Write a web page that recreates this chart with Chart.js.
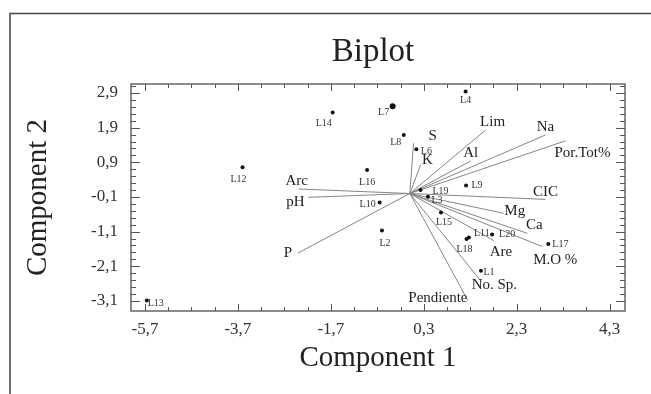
<!DOCTYPE html>
<html lang="es">
<head>
<meta charset="UTF-8" />
<title>Biplot</title>
<script src="https://cdn.jsdelivr.net/npm/chart.js@4.4.0/dist/chart.umd.min.js"></script>
<style>
  html, body { margin: 0; padding: 0; background: #fff; }
</style>
</head>
<body>
<canvas id="biplot" width="651" height="394"></canvas>
<script>
// observation scores
const obsNames = ['L1', 'L2', 'L3', 'L4', 'L6', 'L7', 'L8', 'L9', 'L10', 'L11',
                  'L12', 'L13', 'L14', 'L15', 'L16', 'L17', 'L18', 'L19', 'L20'];
const obsX = [1.53, -0.60, 0.39, 1.20, 0.14, -0.37, -0.13, 1.21, -0.65, 1.27,
              -3.60, -5.66, -1.66, 0.67, -0.92, 2.98, 1.22, 0.23, 1.77];
const obsY = [-2.23, -1.07, -0.09, 2.94, 1.28, 2.52, 1.69, 0.23, -0.26, -1.27,
              0.76, -3.09, 2.34, -0.55, 0.68, -1.46, -1.31, 0.10, -1.18];

// variable loadings (vectors from the origin)
const varNames = ['Lim', 'Na', 'Por.Tot%', 'Al', 'S', 'K', 'CIC', 'Mg', 'Ca',
                  'M.O %', 'Are', 'No. Sp.', 'Pendiente', 'Arc', 'pH', 'P'];
const varX = [1.63, 2.92, 3.35, 1.31, 0.08, 0.23, 2.92, 2.02, 2.53,
              2.85, 1.81, 1.54, 1.25, -2.39, -2.18, -2.41];
const varY = [1.83, 1.69, 1.52, 0.94, 1.45, 0.82, -0.17, -0.57, -1.15,
              -1.53, -1.36, -2.54, -3.09, 0.13, -0.11, -1.72];

// axis tick labels
const xTicks = [-5.7, -3.7, -1.7, 0.3, 2.3, 4.3];
const yTicks = [2.9, 1.9, 0.9, -0.1, -1.1, -2.1, -3.1];

// label placement (pixel offsets from the mark)
const obsLabelOff = [[8, 2], [3, 13], [9, 4], [0, 9], [10, 2], [-9, 6], [-8, 7], [11, 0], [-12, 2], [13, -4],
                     [-4, 12], [9, 3], [-9, 11], [3, 10], [0, 12], [12, 0], [-2, 10], [20, 1], [15, 0]];
const varLabelOff = [[7, -8], [0, -8], [17, 12], [0, -8], [19, -7], [7, -5], [0, -7], [11, -2], [7, -8],
                     [13, 14], [7, 11], [13, 4], [-30, -3], [-2, -8], [-13, 5], [-10, 0]];

const serif = '"Liberation Serif", "Times New Roman", serif';
const fmt = v => v.toFixed(1).replace('.', ',');

const extras = {
  id: 'extras',
  afterDraw(chart) {
    const { ctx, chartArea: a, scales: { x, y } } = chart;
    ctx.save();

    // outer frame (top and left)
    ctx.strokeStyle = '#444';
    ctx.lineWidth = 1.5;
    ctx.beginPath();
    ctx.moveTo(651, 13.5);
    ctx.lineTo(10, 13.5);
    ctx.lineTo(10, 394);
    ctx.stroke();

    // plot box
    ctx.strokeStyle = '#666';
    ctx.lineWidth = 1.5;
    ctx.strokeRect(a.left, a.top, a.right - a.left, a.bottom - a.top);

    // inward tick marks on all four sides
    ctx.lineWidth = 1;
    ctx.strokeStyle = '#555';
    ctx.beginPath();
    for (let v = xTicks[0]; v <= x.max + 1e-9; v += 0.5) {
      const px = Math.round(x.getPixelForValue(v)) + 0.5;
      const major = xTicks.some(t => Math.abs(t - v) < 1e-6);
      const len = major ? 7 : 4;
      ctx.moveTo(px, a.bottom); ctx.lineTo(px, a.bottom - len);
      ctx.moveTo(px, a.top); ctx.lineTo(px, a.top + len);
    }
    for (let v = yTicks[yTicks.length - 1]; v <= y.max + 1e-9; v += 0.2) {
      const py = Math.round(y.getPixelForValue(v)) + 0.5;
      const major = yTicks.some(t => Math.abs(t - v) < 1e-6);
      const len = major ? 9 : 5;
      ctx.moveTo(a.left, py); ctx.lineTo(a.left + len, py);
      ctx.moveTo(a.right, py); ctx.lineTo(a.right - len, py);
    }
    ctx.stroke();

    // observation labels
    ctx.fillStyle = '#333';
    ctx.font = '10px ' + serif;
    ctx.textAlign = 'center';
    ctx.textBaseline = 'middle';
    chart.getDatasetMeta(0).data.forEach((pt, i) => {
      const [dx, dy] = obsLabelOff[i];
      ctx.fillText(obsNames[i], pt.x + dx, pt.y + dy);
    });

    // variable labels
    ctx.fillStyle = '#222';
    ctx.font = '15px ' + serif;
    varNames.forEach((n, i) => {
      const [dx, dy] = varLabelOff[i];
      ctx.fillText(n, x.getPixelForValue(varX[i]) + dx, y.getPixelForValue(varY[i]) + dy);
    });

    // chart title
    ctx.font = '33px ' + serif;
    ctx.fillStyle = '#222';
    ctx.fillText('Biplot', (a.left + a.right) / 2 - 5, 52);

    ctx.restore();
  }
};

const vectorSets = varNames.map((n, i) => ({
  label: n,
  data: [{ x: 0, y: 0 }, { x: varX[i], y: varY[i] }],
  showLine: true,
  borderColor: '#858585',
  borderWidth: 1,
  pointRadius: 0,
  fill: false
}));

new Chart(document.getElementById('biplot'), {
  type: 'scatter',
  data: {
    datasets: [
      {
        label: 'Observaciones',
        data: obsX.map((v, i) => ({ x: v, y: obsY[i] })),
        backgroundColor: '#111',
        borderWidth: 0,
        pointRadius: c => (obsNames[c.dataIndex] === 'L7' ? 3 : 2)
      },
      ...vectorSets
    ]
  },
  options: {
    responsive: false,
    animation: false,
    layout: { padding: { top: 84, left: 0, right: 26, bottom: 0 } },
    plugins: { legend: { display: false }, tooltip: { enabled: false } },
    scales: {
      x: {
        type: 'linear',
        min: -6.0,
        max: 4.63,
        afterBuildTicks: s => { s.ticks = xTicks.map(v => ({ value: v })); },
        afterFit: s => { s.height = 83; },
        grid: { display: false, drawTicks: false },
        border: { display: false },
        ticks: { callback: fmt, padding: 8, color: '#333', font: { family: serif, size: 17 }, maxRotation: 0 },
        title: { display: true, text: 'Component 1', color: '#222', font: { family: serif, size: 29 }, padding: { top: 0, bottom: 18 } }
      },
      y: {
        type: 'linear',
        min: -3.39,
        max: 3.16,
        afterBuildTicks: s => { s.ticks = yTicks.map(v => ({ value: v })); },
        afterFit: s => { s.width = 131; },
        grid: { display: false, drawTicks: false },
        border: { display: false },
        ticks: { callback: fmt, padding: 13, color: '#333', font: { family: serif, size: 17 } },
        title: { display: true, text: 'Component 2', color: '#222', font: { family: serif, size: 29 }, padding: { top: 21, bottom: 0 } }
      }
    }
  },
  plugins: [extras]
});
</script>
</body>
</html>
